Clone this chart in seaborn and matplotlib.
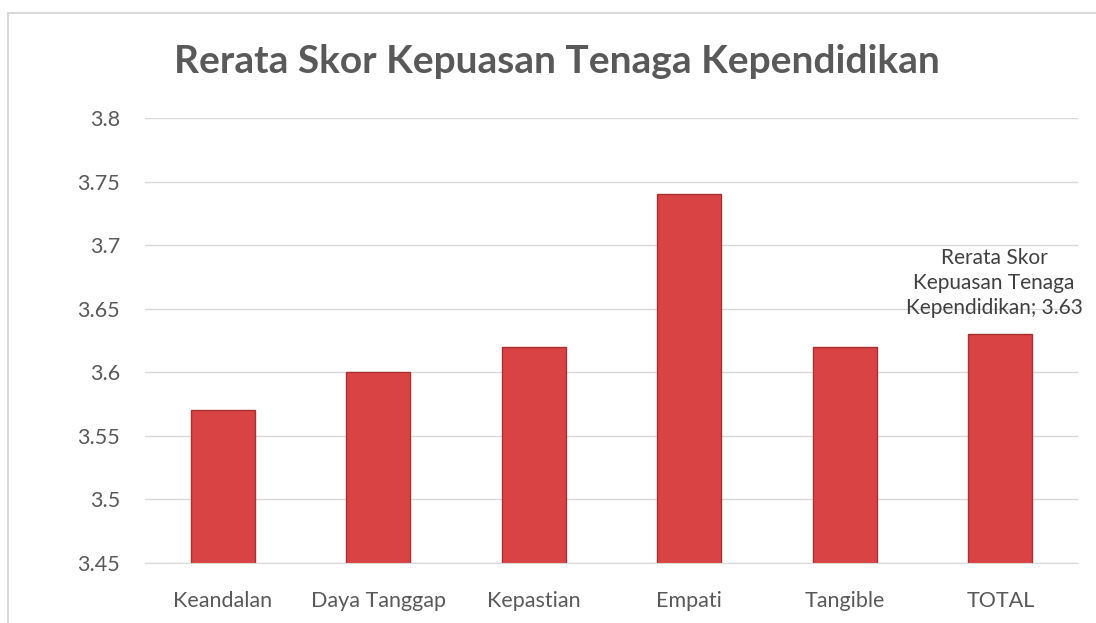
import matplotlib.pyplot as plt
import seaborn as sns
import pandas as pd
from matplotlib.patches import Rectangle

categories = ["Keandalan", "Daya Tanggap", "Kepastian", "Empati", "Tangible", "TOTAL"]
scores = [3.57, 3.60, 3.62, 3.74, 3.62, 3.63]
yticks = [3.45, 3.5, 3.55, 3.6, 3.65, 3.7, 3.75, 3.8]
ytick_labels = ["3.45", "3.5", "3.55", "3.6", "3.65", "3.7", "3.75", "3.8"]
title = "Rerata Skor Kepuasan Tenaga Kependidikan"

sns.set_style("white")
plt.rcParams['font.family'] = ['Lato', 'DejaVu Sans']

df = pd.DataFrame({"kategori": categories, "skor": scores})

fig = plt.figure(figsize=(10.96, 6.23), dpi=100)
ax = fig.add_axes([0.1323, 0.0963, 0.8513, 0.7143])

sns.barplot(data=df, x="kategori", y="skor", color="#D94343", width=0.41,
            edgecolor="#A93030", linewidth=1, saturation=1, ax=ax)

ax.set_ylim(3.45, 3.8)
ax.set_yticks(yticks)
ax.set_yticklabels(ytick_labels)
ax.yaxis.grid(True, color="#D9D9D9", linewidth=1)
ax.set_axisbelow(True)
for s in ["top", "right", "left"]:
    ax.spines[s].set_visible(False)
ax.spines["bottom"].set_color("#D9D9D9")
ax.tick_params(axis="both", length=0, labelsize=15.5, colors="#595959")
ax.tick_params(axis="x", pad=20)
ax.tick_params(axis="y", pad=18)
ax.set_xlabel("")
ax.set_ylabel("")

# data label on TOTAL
last = len(categories) - 1
ax.text(last - 0.04, scores[last] + 0.013, f"Rerata Skor\nKepuasan Tenaga\nKependidikan; {scores[last]:.2f}",
        ha="center", va="bottom", fontsize=15, color="#404040", linespacing=1.3)

fig.text(0.508, 0.9005, title, ha="center", va="center", fontsize=28,
         fontweight="bold", color="#595959")

# chart frame
fig.patches.append(Rectangle((8 / 1096, -0.1), 1.2, 1 - 13 / 623 + 0.1,
                             transform=fig.transFigure, fill=False,
                             edgecolor="#D9D9D9", linewidth=1.5))

fig.savefig("out.png", dpi=100)
